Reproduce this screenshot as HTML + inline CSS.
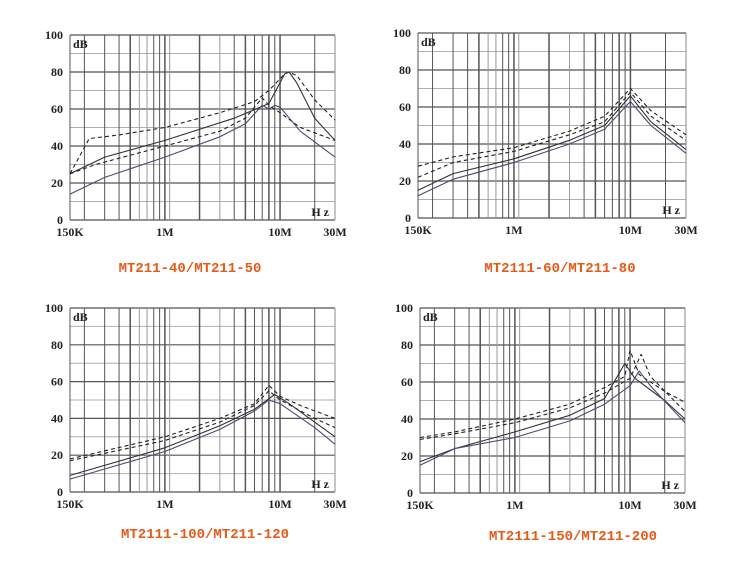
<!DOCTYPE html>
<html><head><meta charset="utf-8"><style>
body{margin:0;background:#fff;width:750px;height:563px;overflow:hidden}
svg{display:block}
.t{font-family:"Liberation Mono",monospace;font-weight:bold;font-size:14px;fill:#e55a18}
.l{font-family:"Liberation Serif",serif;font-weight:bold;font-size:12px;fill:#222}
</style></head><body>
<svg id="s" width="750" height="563" xmlns="http://www.w3.org/2000/svg">
<text class="t" x="190" y="272" text-anchor="middle">MT211-40/MT211-50</text>
<text class="t" x="560" y="272" text-anchor="middle">MT2111-60/MT211-80</text>
<text class="t" x="205" y="538" text-anchor="middle">MT2111-100/MT211-120</text>
<text class="t" x="573" y="540" text-anchor="middle">MT2111-150/MT211-200</text>
</svg>
<script>
const s=document.getElementById('s');const NS='http://www.w3.org/2000/svg';
function el(n,a,t){const e=document.createElementNS(NS,n);for(const k in a)e.setAttribute(k,a[k]);if(t)e.textContent=t;s.appendChild(e);return e;}
const panels=[
{L:70,R:335,T:35,B:220,c:[
['d','#222',[[0.15,25],[0.22,44],[0.4,46],[1,50],[3,58],[6,64],[8,70],[11,79],[12,80],[14,78],[20,65],[30,54]]],
['s','#333',[[0.15,25],[0.3,34],[1,43],[4,55],[8,63],[11,79],[12,80],[14,74],[20,55],[30,43]]],
['d','#222',[[0.15,25],[0.25,30],[1,40],[3,48],[5,55],[7,66],[8,62],[10,58],[15,50],[30,43]]],
['s','#4a4a7a',[[0.15,14],[0.3,23],[1,34],[3,45],[5,52],[7,62],[8,60],[9,62],[10,61],[15,48],[30,34]]]]},
{L:418,R:686,T:33,B:218,c:[
['d','#222',[[0.15,28],[0.3,33],[1,38],[3,47],[6,55],[10,70],[15,58],[30,45]]],
['d','#222',[[0.15,22],[0.3,30],[1,36],[3,45],[6,52],[10,68],[15,55],[30,42]]],
['s','#333',[[0.15,15],[0.3,24],[1,32],[3,42],[6,50],[10,66],[15,52],[30,37]]],
['s','#4a4a7a',[[0.15,12],[0.3,21],[1,30],[3,40],[6,48],[10,63],[15,50],[30,35]]]]},
{L:70,R:335,T:308,B:492,c:[
['d','#222',[[0.15,18],[1,30],[3,40],[6,48],[8,58],[10,52],[15,47],[30,40]]],
['d','#222',[[0.15,17],[1,28],[3,38],[6,47],[8,55],[10,50],[20,40],[30,35]]],
['s','#333',[[0.15,9],[1,24],[3,36],[6,45],[9,53],[12,48],[30,30]]],
['s','#4a4a7a',[[0.15,7],[1,22],[3,34],[6,44],[8,50],[10,48],[20,35],[30,26]]]]},
{L:420,R:685,T:308,B:493,c:[
['d','#222',[[0.15,30],[0.3,33],[1,40],[3,48],[6,57],[9,63],[10,77],[12,64],[20,55],[30,49]]],
['d','#222',[[0.15,29],[0.3,32],[1,38],[3,46],[6,54],[10,62],[12.5,75],[15,63],[30,44]]],
['s','#333',[[0.15,17],[0.3,24],[1,33],[3,42],[6,51],[9,70],[11,62],[20,50],[30,40]]],
['s','#4a4a7a',[[0.15,15],[0.3,24],[1,30],[3,39],[6,48],[10,58],[12,66],[15,58],[30,38]]]]}];
const span=Math.log10(200);
panels.forEach(p=>{
 const X=f=>p.L+(Math.log10(f/0.15))/span*(p.R-p.L);
 const Y=d=>p.B-d/100*(p.B-p.T);
 for(let d=0;d<=100;d+=10){el('line',{x1:p.L,x2:p.R,y1:Y(d),y2:Y(d),stroke:d%20?'#b0b0b0':'#555','stroke-width':d%20?1:1.2});}
 const fs=[0.2,0.3,0.4,0.5,0.6,0.7,0.8,0.9,1,1.1,2,3,4,5,6,7,8,9,10,20];
 fs.forEach(f=>el('line',{x1:X(f),x2:X(f),y1:p.T,y2:p.B,stroke:(f==1.1||f==0.6||f==0.7||f==3)?'#999':'#555','stroke-width':(f==1||f==10||f==0.5||f==2||f==5||f==8)?1.5:1}));
 el('line',{x1:p.L,x2:p.L,y1:p.T,y2:p.B,stroke:'#555'});
 el('line',{x1:p.R,x2:p.R,y1:p.T,y2:p.B,stroke:'#888'});
 for(let d=0;d<=100;d+=20)el('text',{class:'l',x:p.L-7,y:Y(d)+4,'text-anchor':'end'},String(d));
 el('text',{class:'l',x:p.L+3,y:p.T+13,'font-weight':'normal'},'dB');
 el('text',{class:'l',x:p.R-6,y:p.B-4,'text-anchor':'end','font-weight':'normal'},'H z');
 [['150K',0.15],['1M',1],['10M',10],['30M',30]].forEach(a=>el('text',{class:'l',x:X(a[1]),y:p.B+16,'text-anchor':'middle'},a[0]));
 p.c.forEach(c=>{el('polyline',{points:c[2].map(q=>X(q[0]).toFixed(1)+','+Y(q[1]).toFixed(1)).join(' '),fill:'none',stroke:c[1],'stroke-width':1.1,'stroke-dasharray':c[0]=='d'?'4,3':'none','stroke-linejoin':'round'});});
});
</script>
</body></html>
